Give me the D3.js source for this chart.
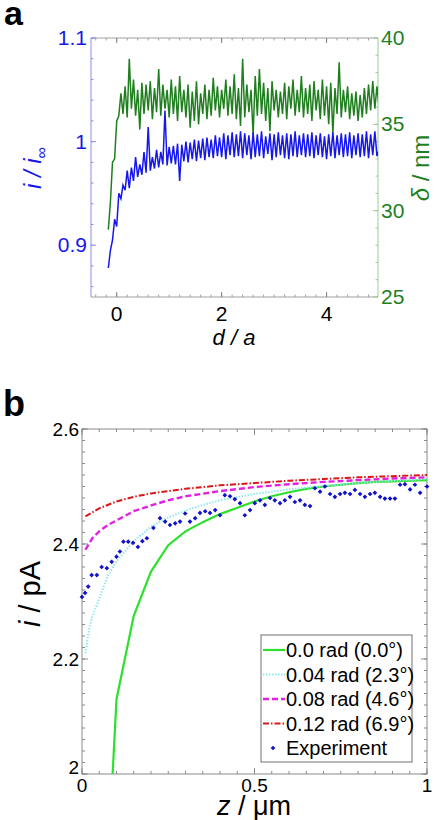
<!DOCTYPE html>
<html>
<head>
<meta charset="utf-8">
<script src="https://cdn.jsdelivr.net/npm/d3@7"></script>
<style>
  body { margin: 0; background: #fff; }
  svg { display: block; font-family: Arial, "Liberation Sans", sans-serif; }
</style>
</head>
<body>
<svg id="fig" width="438" height="820"></svg>
<script>
const dA = d3.range(130).map(i => -0.16 + i * 0.04);
const currentRatio = [
  0.878, 0.895, 0.905, 0.925, 0.918, 0.950, 0.945, 0.958, 0.953, 0.972,
  0.955, 0.975, 0.962, 0.985, 0.966, 0.978, 0.968, 0.990, 0.970, 1.014,
  0.972, 0.985, 0.974, 0.992, 0.975, 0.990, 0.978, 1.030, 0.977, 0.995,
  0.979, 0.996, 0.978, 0.998, 0.962, 0.997, 0.981, 1.000, 0.980, 0.999,
  0.983, 1.002, 0.981, 1.001, 0.984, 1.003, 0.982, 1.004, 0.985, 1.002,
  0.984, 1.006, 0.986, 1.004, 0.985, 1.008, 0.983, 1.006, 0.987, 1.009,
  0.985, 1.007, 0.986, 1.010, 0.984, 1.008, 0.987, 1.006, 0.983, 1.009,
  0.985, 1.007, 0.986, 1.010, 0.984, 1.005, 0.988, 1.008, 0.982, 1.007,
  0.985, 1.009, 0.987, 1.006, 0.984, 1.008, 0.983, 1.007, 0.986, 1.010,
  0.985, 1.006, 0.987, 1.008, 0.985, 1.007, 0.986, 1.009, 0.984, 1.006,
  0.987, 1.008, 0.985, 1.005, 0.983, 1.007, 0.986, 1.009, 0.984, 1.006,
  0.987, 1.008, 0.985, 1.007, 0.986, 1.009, 0.984, 1.006, 0.987, 1.008,
  0.985, 1.007, 0.986, 1.010, 0.984, 1.007, 0.987, 1.010, 0.986, 0.992
];
const thickness = [
  28.9, 30.5, 32.8, 33.0, 35.2, 35.5, 36.8, 35.6, 37.2, 35.4,
  38.8, 35.9, 37.6, 35.5, 37.0, 34.7, 37.4, 35.6, 37.3, 35.8,
  37.5, 35.3, 37.1, 35.7, 38.2, 35.5, 37.3, 35.9, 37.0, 35.4,
  37.6, 35.6, 37.2, 35.2, 37.8, 35.7, 37.0, 35.4, 37.3, 34.8,
  36.9, 35.2, 37.5, 35.0, 36.8, 35.6, 37.3, 35.3, 37.0, 35.5,
  37.7, 35.8, 37.2, 35.4, 37.0, 35.9, 37.6, 35.5, 37.2, 35.6,
  37.9, 35.3, 37.1, 34.9, 38.8, 35.4, 37.3, 35.7, 37.0, 34.4,
  37.8, 35.5, 38.2, 35.6, 37.4, 35.2, 37.1, 34.6, 37.5, 35.8,
  37.0, 35.4, 36.9, 35.6, 37.4, 35.3, 37.2, 35.9, 37.6, 35.5,
  37.0, 35.7, 37.8, 35.4, 37.1, 35.6, 37.3, 35.2, 37.5, 35.8,
  37.0, 35.3, 37.6, 35.5, 37.2, 35.0, 37.4, 34.5, 37.1, 35.6,
  38.6, 35.4, 37.0, 35.7, 37.2, 35.3, 36.8, 35.5, 36.9, 35.2,
  36.7, 35.4, 37.1, 35.6, 37.3, 35.8, 37.5, 35.9, 37.2, 36.0
];
const aTicksX = [0, 2, 4];
const aTicksLeft = [0.9, 1, 1.1];
const aTicksRight = [25, 30, 35, 40];

// -- Panel b data -- //
const zGreen = [0.05, 0.10, 0.15, 0.20, 0.25, 0.30, 0.35, 0.40, 0.45, 0.50,
                0.55, 0.60, 0.65, 0.70, 0.75, 0.80, 0.85, 0.90, 0.95, 1.00];
const iGreen = [1.55, 2.13, 2.275, 2.352, 2.398, 2.422, 2.438, 2.452, 2.463, 2.474,
                2.483, 2.490, 2.496, 2.500, 2.503, 2.506, 2.508, 2.509, 2.510, 2.511];
const zCyan = [0.01, 0.02, 0.03, 0.05, 0.075, 0.10, 0.15, 0.20, 0.25, 0.30,
               0.35, 0.40, 0.50, 0.60, 0.70, 0.80, 0.90, 1.00];
const iCyan = [2.21, 2.25, 2.275, 2.305, 2.345, 2.37, 2.405, 2.43, 2.446, 2.458,
               2.468, 2.476, 2.487, 2.495, 2.501, 2.506, 2.510, 2.513];
const zMagenta = [0.01, 0.03, 0.05, 0.075, 0.10, 0.15, 0.20, 0.25, 0.30, 0.40,
                  0.50, 0.60, 0.70, 0.80, 0.90, 1.00];
const iMagenta = [2.39, 2.41, 2.422, 2.433, 2.441, 2.457, 2.467, 2.476, 2.483, 2.492,
                  2.499, 2.504, 2.508, 2.511, 2.514, 2.516];
const zRed = [0.01, 0.05, 0.10, 0.15, 0.20, 0.30, 0.40, 0.50, 0.60, 0.70, 0.80, 0.90, 1.00];
const iRed = [2.448, 2.462, 2.474, 2.482, 2.488, 2.496, 2.502, 2.506, 2.510, 2.513,
              2.516, 2.518, 2.520];
const zExp = [
  0.000, 0.009, 0.018, 0.028, 0.043, 0.057, 0.072, 0.086, 0.100, 0.110,
  0.120, 0.134, 0.148, 0.162, 0.175, 0.188, 0.207, 0.226, 0.241, 0.255,
  0.270, 0.284, 0.299, 0.313, 0.328, 0.342, 0.357, 0.371, 0.386, 0.400,
  0.414, 0.429, 0.443, 0.458, 0.472, 0.487, 0.501, 0.516, 0.530, 0.545,
  0.559, 0.574, 0.588, 0.603, 0.617, 0.632, 0.646, 0.661, 0.675, 0.690,
  0.704, 0.719, 0.733, 0.748, 0.762, 0.777, 0.791, 0.806, 0.820, 0.835,
  0.849, 0.864, 0.878, 0.893, 0.907, 0.922, 0.936, 0.951, 0.965, 0.980, 1.000
];
const iExp = [
  2.308, 2.315, 2.326, 2.346, 2.346, 2.360, 2.358, 2.369, 2.378, 2.387,
  2.404, 2.404, 2.402, 2.395, 2.405, 2.410, 2.428, 2.445, 2.439, 2.433,
  2.436, 2.439, 2.453, 2.439, 2.445, 2.454, 2.457, 2.454, 2.459, 2.450,
  2.485, 2.483, 2.478, 2.471, 2.450, 2.459, 2.471, 2.476, 2.468, 2.480,
  2.476, 2.471, 2.476, 2.482, 2.473, 2.476, 2.468, 2.466, 2.497, 2.491,
  2.500, 2.487, 2.482, 2.487, 2.489, 2.487, 2.494, 2.487, 2.482, 2.487,
  2.489, 2.482, 2.479, 2.479, 2.479, 2.503, 2.504, 2.495, 2.503, 2.489, 2.500
];
const bTicksX = [0, 0.5, 1];
const bTicksY = [2, 2.2, 2.4, 2.6];
const legendLabels = ["0.0 rad (0.0°)", "0.04 rad (2.3°)", "0.08 rad (4.6°)", "0.12 rad (6.9°)", "Experiment"];

// -- Styles -- //
const col = {
  blue: "#1616ee", green: "#1f7f1f", blueAxis: "#8c8ce6", greenAxis: "#9ccb9c",
  frame: "#a0a0a0", frameB: "#8a8a8a",
  cGreen: "#2ee02e", cCyan: "#8fe8ee", cMagenta: "#e022e0", cRed: "#d81818", cExp: "#1212c8"
};

const svg = d3.select("#fig");

// Draw inward ticks on a side of a box
function ticks(g, scale, values, side, len, colour, box) {
  values.forEach(v => {
    let p = scale(v);
    let l = g.append("line").attr("stroke", colour).attr("stroke-width", 1);
    if (side === "left") l.attr("x1", box.l).attr("x2", box.l + len).attr("y1", p).attr("y2", p);
    if (side === "right") l.attr("x1", box.r).attr("x2", box.r - len).attr("y1", p).attr("y2", p);
    if (side === "bottom") l.attr("x1", p).attr("x2", p).attr("y1", box.b).attr("y2", box.b - len);
    if (side === "top") l.attr("x1", p).attr("x2", p).attr("y1", box.t).attr("y2", box.t + len);
  });
}

function minor(domain, step) {
  let out = [];
  let s = Math.ceil(domain[0] / step - 1e-9);
  for (let k = s; k * step <= domain[1] + 1e-9; k++) out.push(+(k * step).toFixed(6));
  return out;
}

// Small diamond marker (square turned by 45 degrees)
const marker = d3.symbol(d3.symbolSquare, 11);

// ---------------- Panel a ---------------- //
const A = {l: 91, r: 378, t: 38, b: 297};
const xa = d3.scaleLinear().domain([-0.49, 4.98]).range([A.l, A.r]);
const yaL = d3.scaleLinear().domain([0.85, 1.1]).range([A.b, A.t]);
const yaR = d3.scaleLinear().domain([25, 40]).range([A.b, A.t]);
const ga = svg.append("g");

ga.append("text").text("a").attr("x", 4).attr("y", 25)
  .attr("font-size", 34).attr("font-weight", "bold");

// frame
ga.append("line").attr("x1", A.l).attr("x2", A.r).attr("y1", A.t).attr("y2", A.t).attr("stroke", col.frame);
ga.append("line").attr("x1", A.l).attr("x2", A.r).attr("y1", A.b).attr("y2", A.b).attr("stroke", col.frame);
ga.append("line").attr("x1", A.l).attr("x2", A.l).attr("y1", A.t).attr("y2", A.b).attr("stroke", col.blueAxis);
ga.append("line").attr("x1", A.r).attr("x2", A.r).attr("y1", A.t).attr("y2", A.b).attr("stroke", col.greenAxis);

const xaMinor = minor(xa.domain(), 0.2);
ticks(ga, xa, xaMinor, "bottom", 2.5, col.frame, A);
ticks(ga, xa, xaMinor, "top", 2.5, col.frame, A);
ticks(ga, xa, aTicksX, "bottom", 5, "#808080", A);
ticks(ga, xa, aTicksX, "top", 5, "#808080", A);
ticks(ga, yaL, minor(yaL.domain(), 0.02), "left", 2.5, col.blueAxis, A);
ticks(ga, yaL, aTicksLeft, "left", 5, col.blueAxis, A);
ticks(ga, yaR, minor(yaR.domain(), 1), "right", 2.5, col.greenAxis, A);
ticks(ga, yaR, aTicksRight, "right", 5, col.greenAxis, A);

// lines
svg.append("clipPath").attr("id", "clipA").append("rect")
  .attr("x", A.l).attr("y", A.t).attr("width", A.r - A.l).attr("height", A.b - A.t);
ga.append("path").datum(dA.map((d, i) => [d, thickness[i]]))
  .attr("clip-path", "url(#clipA)")
  .attr("fill", "none").attr("stroke", col.green).attr("stroke-width", 1.5)
  .attr("d", d3.line().x(d => xa(d[0])).y(d => yaR(d[1])));
ga.append("path").datum(dA.map((d, i) => [d, currentRatio[i]]))
  .attr("clip-path", "url(#clipA)")
  .attr("fill", "none").attr("stroke", col.blue).attr("stroke-width", 1.5)
  .attr("d", d3.line().x(d => xa(d[0])).y(d => yaL(d[1])));

// tick labels
ga.selectAll(".xl").data(aTicksX).join("text")
  .attr("x", d => xa(d)).attr("y", A.b + 24).attr("text-anchor", "middle")
  .attr("font-size", 21).text(d => d);
ga.selectAll(".yl").data(aTicksLeft).join("text")
  .attr("x", A.l - 4).attr("y", d => yaL(d) + 7).attr("text-anchor", "end")
  .attr("font-size", 21).attr("fill", col.blue).text(d => d);
ga.selectAll(".yr").data(aTicksRight).join("text")
  .attr("x", A.r + 3).attr("y", d => yaR(d) + 7).attr("text-anchor", "start")
  .attr("font-size", 21).attr("fill", col.green).text(d => d);

// axis titles
ga.append("text").attr("x", 234).attr("y", 345).attr("text-anchor", "middle")
  .attr("font-size", 22).attr("font-style", "italic").text("d / a");
const tl = ga.append("text").attr("transform", "translate(41,168) rotate(-90)")
  .attr("text-anchor", "middle").attr("font-size", 24).attr("fill", col.blue);
tl.append("tspan").attr("font-style", "italic").text("i / i");
tl.append("tspan").attr("dy", 6).attr("font-size", 16).text("∞");
const tr = ga.append("text").attr("transform", "translate(429,168) rotate(-90)")
  .attr("text-anchor", "middle").attr("font-size", 24).attr("fill", col.green);
tr.append("tspan").attr("font-style", "italic").text("δ");
tr.append("tspan").text(" / nm");

// ---------------- Panel b ---------------- //
const B = {l: 82, r: 427, t: 429, b: 774};
const xb = d3.scaleLinear().domain([0, 1]).range([B.l, B.r]);
const yb = d3.scaleLinear().domain([2, 2.6]).range([B.b, B.t]);
const gb = svg.append("g");

gb.append("text").text("b").attr("x", 3).attr("y", 416)
  .attr("font-size", 36).attr("font-weight", "bold");

gb.append("rect").attr("x", B.l).attr("y", B.t).attr("width", B.r - B.l).attr("height", B.b - B.t)
  .attr("fill", "none").attr("stroke", col.frameB);
const ybMinor = minor(yb.domain(), 0.02);
const xbMinor = minor(xb.domain(), 0.05);
ticks(gb, yb, ybMinor, "left", 3, col.frameB, B);
ticks(gb, yb, ybMinor, "right", 3, col.frameB, B);
ticks(gb, xb, xbMinor, "bottom", 3, col.frameB, B);
ticks(gb, xb, xbMinor, "top", 3, col.frameB, B);
ticks(gb, yb, bTicksY, "left", 6, col.frameB, B);
ticks(gb, yb, bTicksY, "right", 6, col.frameB, B);
ticks(gb, xb, bTicksX, "bottom", 6, col.frameB, B);
ticks(gb, xb, bTicksX, "top", 6, col.frameB, B);

svg.append("clipPath").attr("id", "clipB").append("rect")
  .attr("x", B.l).attr("y", B.t).attr("width", B.r - B.l).attr("height", B.b - B.t);

const lineB = d3.line().x(d => xb(d[0])).y(d => yb(d[1]));
const curves = [
  {z: zGreen, v: iGreen, colour: col.cGreen, width: 2.2, dash: null},
  {z: zCyan, v: iCyan, colour: col.cCyan, width: 2, dash: "1.5,1.5"},
  {z: zMagenta, v: iMagenta, colour: col.cMagenta, width: 2.4, dash: "6,3"},
  {z: zRed, v: iRed, colour: col.cRed, width: 2, dash: "6,2,1.5,2"},
];
curves.forEach(c => {
  gb.append("path").datum(c.z.map((z, i) => [z, c.v[i]]))
    .attr("clip-path", "url(#clipB)")
    .attr("fill", "none").attr("stroke", c.colour).attr("stroke-width", c.width)
    .attr("stroke-dasharray", c.dash)
    .attr("d", lineB);
});
gb.selectAll(".exp").data(zExp.map((z, i) => [z, iExp[i]])).join("path")
  .attr("transform", d => `translate(${xb(d[0])},${yb(d[1])}) rotate(45)`)
  .attr("d", marker)
  .attr("fill", col.cExp);

// tick labels
gb.selectAll(".xl").data(bTicksX).join("text")
  .attr("x", d => xb(d)).attr("y", B.b + 18).attr("text-anchor", "middle")
  .attr("font-size", 19).text(d => d);
gb.selectAll(".yl").data(bTicksY).join("text")
  .attr("x", B.l - 3).attr("y", d => yb(d) + (d === 2 ? 0 : 7)).attr("text-anchor", "end")
  .attr("font-size", 19).text(d => d);

// axis titles
const bx = gb.append("text").attr("x", 254).attr("y", 815).attr("text-anchor", "middle")
  .attr("font-size", 27);
bx.append("tspan").attr("font-style", "italic").text("z");
bx.append("tspan").text(" / μm");
const byl = gb.append("text").attr("transform", "translate(40,594) rotate(-90)")
  .attr("text-anchor", "middle").attr("font-size", 29);
byl.append("tspan").attr("font-style", "italic").text("i");
byl.append("tspan").text(" / pA");

// legend
const L = {x: 261, y: 635, w: 151, h: 127};
const lg = gb.append("g");
lg.append("rect").attr("x", L.x).attr("y", L.y).attr("width", L.w).attr("height", L.h)
  .attr("fill", "#fff").attr("stroke", "#707070");
legendLabels.forEach((t, i) => {
  let cy = L.y + 15 + i * 24.5;
  if (i < 4) {
    let c = curves[i];
    lg.append("line").attr("x1", L.x + 2).attr("x2", L.x + 24).attr("y1", cy).attr("y2", cy)
      .attr("stroke", c.colour).attr("stroke-width", c.width).attr("stroke-dasharray", c.dash);
  } else {
    lg.append("path").attr("transform", `translate(${L.x + 12},${cy}) rotate(45)`)
      .attr("d", marker).attr("fill", col.cExp);
  }
  lg.append("text").attr("x", L.x + 25).attr("y", cy + 7).attr("font-size", 20).text(t);
});
</script>
</body>
</html>
